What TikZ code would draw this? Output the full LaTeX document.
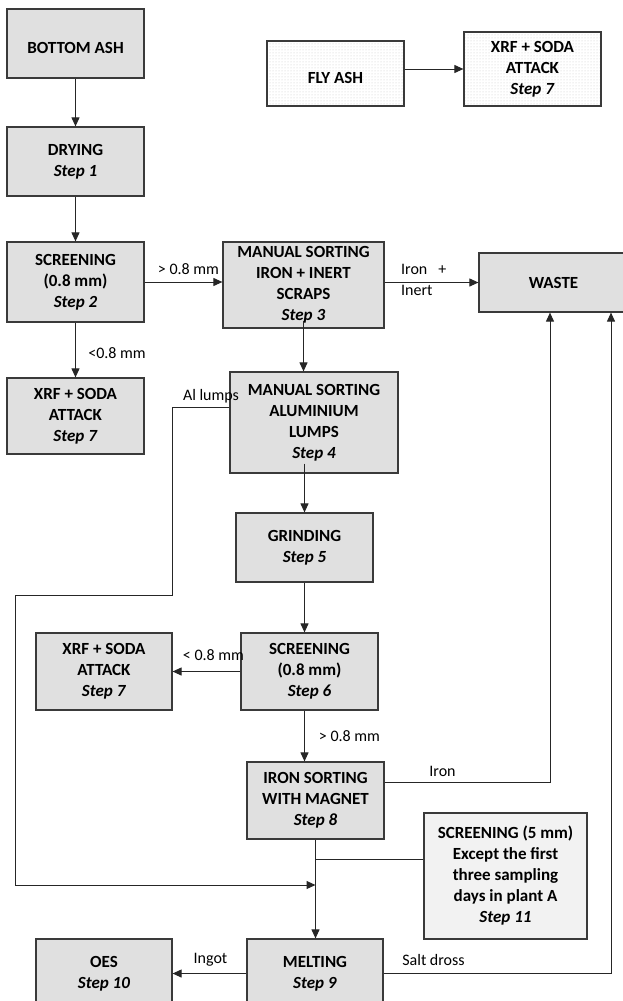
\documentclass[tikz,border=0pt]{standalone}
\usepackage{fontspec}
\setmainfont{Carlito}
\usetikzlibrary{arrows.meta,patterns}

\definecolor{boxgray}{HTML}{E0E0E0}
\definecolor{notegray}{HTML}{F2F2F2}
\definecolor{edgegray}{HTML}{3A3A3A}

\tikzstyle{stepbox}=[rectangle,
                     draw=edgegray,
                     line width=1.2pt,
                     fill=boxgray,
                     inner sep=2pt,
                     align=center,
                     font=\fontsize{17}{21}\selectfont\bfseries]
\tikzstyle{dotbox}=[stepbox,
                    fill=none,
                    pattern=dots,
                    pattern color=black!22]
\tikzstyle{notebox}=[stepbox,
                     fill=notegray]
\tikzstyle{flowline}=[line width=1pt, black!85]
\tikzstyle{flowarrow}=[flowline, -{Triangle[length=9pt,width=8pt]}]
\tikzstyle{flowlabel}=[inner sep=0pt,
                       font=\fontsize{16}{21}\selectfont]

\begin{document}
\begin{tikzpicture}[x=1pt,y=-1pt]
    \useasboundingbox (0,0) rectangle (623,1001);
    \clip (0,0) rectangle (623,1001);

    % boxes
    \node [stepbox, minimum width=137pt, minimum height=69pt] (bottomash) at (75.5,43.5) {\mbox{}\\BOTTOM ASH};
    \node [stepbox, minimum width=137pt, minimum height=69pt] (drying) at (75.5,161.5) {DRYING\\\textit{Step 1}};
    \node [stepbox, minimum width=137pt, minimum height=80pt] (screen1) at (75.5,282) {SCREENING\\(0.8 mm)\\\textit{Step 2}};
    \node [stepbox, minimum width=137pt, minimum height=76pt] (xrf1) at (75.5,416) {XRF + SODA\\ATTACK\\\textit{Step 7}};
    \node [dotbox, minimum width=137pt, minimum height=65pt] (flyash) at (335.5,73.5) {\mbox{}\\FLY ASH};
    \node [dotbox, minimum width=137pt, minimum height=74pt] (xrf0) at (532.5,69) {XRF + SODA\\ATTACK\\\textit{Step 7}};
    \node [stepbox, minimum width=161pt, minimum height=86pt] (mssort1) at (303.5,285) {MANUAL SORTING\\IRON + INERT\\SCRAPS\\\textit{Step 3}};
    \node [stepbox, minimum width=149pt, minimum height=59pt] (waste) at (553.5,282.5) {WASTE};
    \node [stepbox, minimum width=168pt, minimum height=101pt] (msal) at (314,422.5) {MANUAL SORTING\\ALUMINIUM\\LUMPS\\\textit{Step 4}};
    \node [stepbox, minimum width=137pt, minimum height=69pt] (grinding) at (304.5,547.5) {GRINDING\\\textit{Step 5}};
    \node [stepbox, minimum width=137pt, minimum height=77pt] (screen2) at (309.5,671.5) {SCREENING\\(0.8 mm)\\\textit{Step 6}};
    \node [stepbox, minimum width=136pt, minimum height=77pt] (xrf2) at (104,671.5) {XRF + SODA\\ATTACK\\\textit{Step 7}};
    \node [stepbox, minimum width=137pt, minimum height=77pt] (ironsort) at (315.5,800.5) {IRON SORTING\\WITH MAGNET\\\textit{Step 8}};
    \node [notebox, minimum width=163pt, minimum height=126pt] (screen5) at (505.5,876) {SCREENING (5 mm)\\Except the first\\three sampling\\days in plant A\\\textit{Step 11}};
    \node [stepbox, minimum width=136pt, minimum height=69pt] (oes) at (104,973.5) {OES\\\textit{Step 10}};
    \node [stepbox, minimum width=136pt, minimum height=69pt] (melting) at (315,973.5) {MELTING\\\textit{Step 9}};

    % helper points
    \coordinate (albend) at (172,595);
    \coordinate (alleft) at (15,595);
    \coordinate (mergey) at (0,885);
    \coordinate (joiny) at (0,859);

    % connectors
    \draw [flowarrow] (bottomash) -- (drying);
    \draw [flowarrow] (drying) -- (screen1);
    \draw [flowarrow] (flyash.east |- xrf0) -- (xrf0.west);
    \draw [flowarrow] (screen1.east) -- (screen1.east -| mssort1.west);
    \draw [flowarrow] (screen1) -- (xrf1);
    \draw [flowarrow] (mssort1.east |- waste) -- (waste.west);
    \draw [flowarrow] ([yshift=8pt]mssort1.south) -- (mssort1.south |- msal.north);
    \draw [flowarrow] ([yshift=10pt]grinding.north |- msal.south) -- (grinding.north);
    \draw [flowarrow] (grinding.south) -- (grinding.south |- screen2.north);
    \draw [flowarrow] (screen2.west) -- (xrf2.east);
    \draw [flowarrow] (grinding.south |- screen2.south) -- (grinding.south |- ironsort.north);
    \draw [flowarrow] (ironsort.south) -- (ironsort.south |- melting.north);
    \draw [flowarrow] (melting.west) -- (oes.east);
    \draw [flowline] (screen5.west |- joiny) -- (ironsort.south |- joiny);
    \draw [flowarrow] ([yshift=18.5pt]ironsort.east) -| ([xshift=-3.5pt]waste.south);
    \draw [flowarrow] (melting.east) -| ([xshift=57.5pt]waste.south);
    \draw [flowarrow] ([yshift=15.5pt]msal.west) -| (albend) -- (alleft) |- (ironsort.south |- mergey);

    % labels
    \node [flowlabel] (gtlbl1) at (188.5,269) {> 0.8 mm};
    \node [flowlabel] (ltlbl1) at (117,353) {<0.8 mm};
    \node [flowlabel, anchor=west, align=left] (ironinert) at (401,279.5) {Iron\hspace{11pt}+\\Inert};
    \node [flowlabel] (allumps) at (211,396) {Al lumps};
    \node [flowlabel] (ltlbl2) at (213.5,655) {< 0.8 mm};
    \node [flowlabel] (gtlbl2) at (349.5,736) {> 0.8 mm};
    \node [flowlabel] (ironlbl) at (442.5,771) {Iron};
    \node [flowlabel] (ingot) at (210.5,960) {Ingot};
    \node [flowlabel] (saltdross) at (433.5,960) {Salt dross};
\end{tikzpicture}
\end{document}
